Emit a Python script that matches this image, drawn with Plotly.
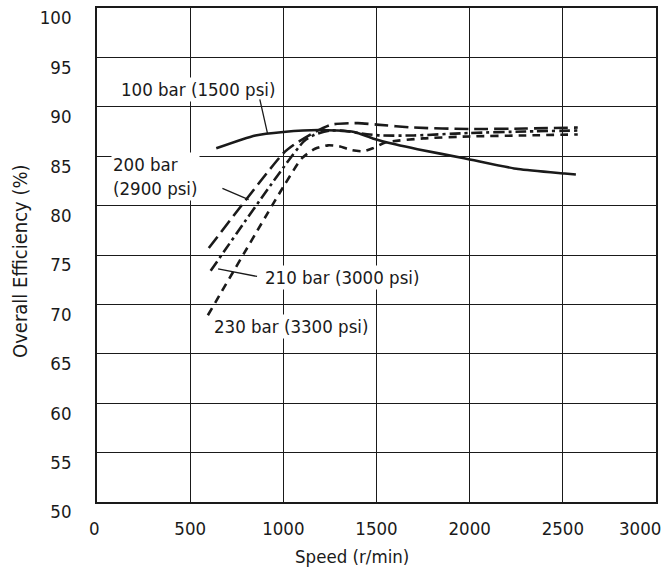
import plotly.graph_objects as go

# ---- data ----
speed_100bar = [640, 850, 1000, 1190, 1380, 1480, 1600, 1720, 1970, 2260, 2510, 2570]
eff_100bar = [85.8, 87.1, 87.45, 87.65, 87.45, 86.8, 86.2, 85.7, 84.8, 83.7, 83.25, 83.15]

speed_200bar = [600, 1000, 1060, 1170, 1260, 1400, 1500, 1700, 2000, 2300, 2580]
eff_200bar = [75.7, 85.3, 86.2, 87.45, 88.2, 88.35, 88.2, 87.9, 87.75, 87.8, 87.9]

speed_210bar = [610, 1110, 1170, 1250, 1330, 1420, 1520, 1700, 2000, 2300, 2580]
eff_210bar = [73.4, 86.5, 87.2, 87.6, 87.55, 87.3, 87.1, 87.1, 87.35, 87.5, 87.6]

speed_230bar = [595, 1000, 1100, 1170, 1240, 1300, 1370, 1430, 1480, 1550, 1750, 2000, 2300, 2580]
eff_230bar = [68.9, 81.9, 84.8, 85.75, 86.1, 86.0, 85.6, 85.5, 85.8, 86.4, 86.8, 87.0, 87.1, 87.2]

x_ticks = [0, 500, 1000, 1500, 2000, 2500, 3000]
x_tick_labels = ["0\u00a0", "500", "1000", "1500", "2000", "2500",
                 "3000\u00a0\u00a0\u00a0\u00a0\u00a0\u00a0"]
y_ticks = [50, 55, 60, 65, 70, 75, 80, 85, 90, 95, 100]

FONT = "DejaVu Sans Condensed, Liberation Sans Narrow, sans-serif"
INK = "#1a1a1a"
FS = 18.5

fig = go.Figure()

series = [
    ("100 bar (1500 psi)", speed_100bar, eff_100bar, "solid"),
    ("200 bar (2900 psi)", speed_200bar, eff_200bar, "14px,6px"),
    ("210 bar (3000 psi)", speed_210bar, eff_210bar, "11px,4px,3px,4px"),
    ("230 bar (3300 psi)", speed_230bar, eff_230bar, "8px,6px"),
]
for name, xs, ys, dash in series:
    fig.add_trace(go.Scatter(
        x=xs, y=ys, mode="lines", name=name,
        line=dict(color=INK, width=2.6, dash=dash, shape="spline", smoothing=0.6),
        showlegend=False,
    ))

ann_font = dict(family=FONT, size=FS, color=INK)

# labels (white boxes hide the grid behind them, as in the reference)
labels = [
    dict(text="100 bar (1500 psi)", x=543, y=91.8, xanchor="center"),
    dict(text="200 bar<br>(2900 psi)", x=75, y=82.9, xanchor="left", align="left"),
    dict(text="210 bar (3000 psi)", x=1314, y=72.7, xanchor="center"),
    dict(text="230 bar (3300 psi)", x=1041, y=67.8, xanchor="center"),
]
for lab in labels:
    fig.add_annotation(xref="x", yref="y", showarrow=False, font=ann_font,
                       bgcolor="white", borderpad=1, yanchor="middle", **lab)

# leader lines
leaders = [
    (915, 87.3, 872, 90.9),
    (814, 80.6, 665, 81.8),
    (650, 73.6, 867, 72.8),
]
for hx, hy, tx, ty in leaders:
    fig.add_annotation(xref="x", yref="y", axref="x", ayref="y",
                       x=hx, y=hy, ax=tx, ay=ty, text="",
                       showarrow=True, arrowhead=0, arrowwidth=1.3, arrowcolor=INK)

# axis titles, placed as in the reference
fig.add_annotation(xref="paper", yref="paper", x=0.457, y=-0.1113,
                   xanchor="center", yanchor="middle", showarrow=False,
                   text="Speed (r/min)", font=ann_font)
fig.add_annotation(xref="paper", yref="paper", x=-0.1377, y=0.488,
                   xanchor="center", yanchor="middle", showarrow=False,
                   textangle=-90, text="Overall Efficiency (%)",
                   font=dict(family=FONT, size=20, color=INK))

fig.update_xaxes(
    range=[0, 3000], tickvals=x_ticks, ticktext=x_tick_labels,
    showgrid=True, gridcolor=INK, gridwidth=1.4,
    showline=True, linecolor=INK, linewidth=1.6, mirror=True,
    zeroline=False, ticks="", ticklabelstandoff=9, automargin=False,
    ticklabeloverflow="allow",
    tickfont=dict(family=FONT, size=FS, color=INK),
)
fig.update_yaxes(
    range=[50, 100], tickvals=y_ticks, ticktext=[str(v) for v in y_ticks],
    showgrid=True, gridcolor=INK, gridwidth=1.4,
    showline=True, linecolor=INK, linewidth=1.6, mirror=True,
    zeroline=False, ticks="", ticklabelstandoff=20, ticklabelshift=10,
    automargin=False, ticklabeloverflow="allow",
    tickfont=dict(family=FONT, size=FS, color=INK),
)

fig.update_layout(
    width=661, height=569,
    margin=dict(l=97, r=5, t=8, b=67),
    plot_bgcolor="white", paper_bgcolor="white",
    font=dict(family=FONT, size=FS, color=INK),
)

# drop the page's default body margin so the 661x569 figure fills the window
fig.write_html(
    "out.html",
    config={"displayModeBar": False},
    post_script="document.body.style.margin='0';document.body.style.overflow='hidden';",
)
